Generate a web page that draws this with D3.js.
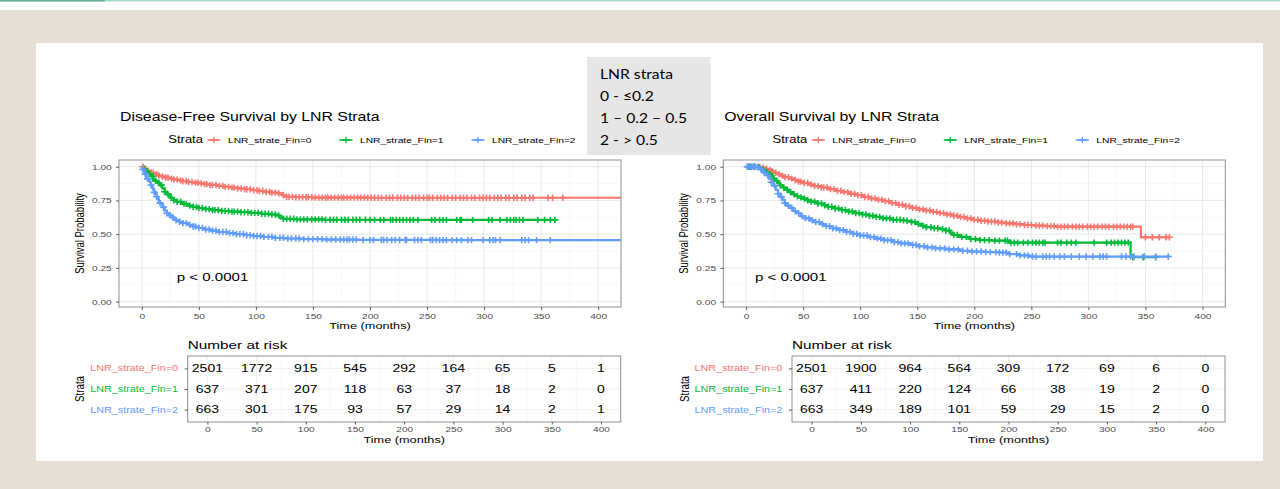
<!DOCTYPE html>
<html>
<head>
<meta charset="utf-8">
<script src="https://cdn.jsdelivr.net/npm/d3@7"></script>
<style>
  body { margin: 0; background: #e6e0d4; }
  svg { display: block; font-family: "Liberation Sans", Arial, sans-serif; }
</style>
</head>
<body>
<svg id="chart"></svg>
<script>
// ---- data ----
const strata = ["LNR_strate_Fin=0", "LNR_strate_Fin=1", "LNR_strate_Fin=2"];
const colors = ["#F8766D", "#00BA38", "#619CFF"];
const timeTicks = [0, 50, 100, 150, 200, 250, 300, 350, 400];
const timeMinor = [25, 75, 125, 175, 225, 275, 325, 375];
const survTicks = [0, 0.25, 0.5, 0.75, 1];
const survMinor = [0.125, 0.375, 0.625, 0.875];
const riskTimes = [0, 50, 100, 150, 200, 250, 300, 350, 400];

// Disease-free survival, [months, survival] knots of the KM step curves
const dfs0 = [[0,1],[2,0.985],[5,0.97],[8,0.955],[11,0.945],[14,0.935],[17,0.928],[20,0.92],[24,0.912],[28,0.905],[32,0.898],[36,0.892],[40,0.887],[45,0.882],[50,0.877],[55,0.871],[60,0.865],[66,0.858],[72,0.851],[78,0.845],[84,0.839],[90,0.833],[96,0.826],[102,0.82],[108,0.813],[114,0.808],[119,0.803],[123,0.79],[126,0.778],[135,0.774],[150,0.771],[200,0.77],[420,0.77]];
const dfs1 = [[0,1],[2,0.98],[4,0.965],[6,0.945],[8,0.93],[10,0.91],[12,0.895],[14,0.88],[16,0.864],[18,0.84],[20,0.815],[22,0.795],[25,0.77],[28,0.752],[31,0.74],[35,0.725],[40,0.712],[45,0.702],[50,0.694],[56,0.686],[62,0.679],[70,0.672],[78,0.667],[86,0.663],[95,0.658],[105,0.651],[112,0.646],[118,0.638],[121,0.625],[124,0.614],[135,0.61],[160,0.607],[200,0.606],[362,0.606]];
const dfs2 = [[0,1],[1,0.98],[2,0.96],[3,0.945],[4,0.925],[5,0.91],[6,0.895],[7,0.885],[8,0.865],[9,0.845],[10,0.83],[11,0.81],[12,0.795],[13,0.778],[14,0.76],[15,0.745],[16,0.73],[18,0.7],[20,0.675],[22,0.655],[24,0.638],[26,0.625],[28,0.613],[30,0.603],[33,0.592],[36,0.582],[40,0.57],[45,0.557],[50,0.546],[55,0.535],[60,0.526],[67,0.516],[75,0.508],[82,0.5],[90,0.492],[98,0.486],[106,0.48],[115,0.473],[125,0.468],[140,0.463],[160,0.46],[190,0.457],[260,0.456],[420,0.456]];

// censoring times (months)
const dfsCens0 = [1,3,5,8,10,13,15,18,21,23,26,28,31,34,36,39,41,44,47,49,52,55,57,60,62,65,68,71,73,76,79,81,84,87,90,92,95,98,101,103,106,109,112,114,117,120,124,127,129,132,135,138,141,144,146,149,152,155,158,161,163,166,169,172,175,177,180,183,186,189,192,195,198,201,204,207,210,214,217,220,224,227,230,233,237,240,243,247,250,252,255,259,262,265,268,272,275,279,282,285,289,292,296,299,302,305,309,312,315,319,322,326,329,333,336,340,343,356,360,369];
const dfsCens1 = [2,4,7,9,12,15,17,20,23,26,28,31,34,37,39,42,45,48,50,53,56,59,62,64,67,70,73,76,79,81,84,87,90,93,96,99,102,105,108,111,114,117,120,124,127,130,133,136,139,142,145,149,152,155,158,161,165,168,171,175,178,181,185,188,191,196,200,204,209,212,218,220,223,226,229,232,235,238,242,254,257,261,264,267,276,279,280,290,304,307,314,320,323,326,328,331,334,347,353,358,362];
const dfsCens2 = [1,3,5,8,11,13,16,19,22,25,27,30,33,36,39,42,45,47,50,53,56,59,62,65,68,71,74,77,80,83,86,89,92,95,98,101,104,107,111,114,117,121,124,128,131,135,138,142,146,150,154,158,162,166,170,174,177,180,182,185,188,194,200,203,210,212,215,219,222,226,231,232,239,242,245,253,255,258,261,264,267,272,276,280,286,289,299,305,308,310,314,333,336,339,346,358];

// Overall survival
const os0 = [[0,1],[10,0.998],[13,0.993],[16,0.985],[19,0.977],[22,0.966],[25,0.955],[28,0.944],[31,0.932],[34,0.922],[38,0.912],[42,0.902],[46,0.89],[50,0.879],[55,0.868],[60,0.857],[66,0.846],[72,0.834],[78,0.822],[84,0.812],[90,0.8],[96,0.789],[102,0.776],[108,0.765],[114,0.755],[120,0.745],[126,0.73],[132,0.718],[138,0.707],[144,0.695],[150,0.684],[156,0.675],[162,0.665],[168,0.656],[174,0.647],[180,0.637],[186,0.627],[192,0.617],[198,0.607],[205,0.6],[212,0.594],[220,0.587],[228,0.58],[236,0.574],[244,0.568],[252,0.564],[262,0.56],[272,0.556],[346,0.477],[371,0.477]];
const os1 = [[0,1],[10,0.997],[12,0.99],[14,0.98],[16,0.97],[18,0.958],[20,0.945],[22,0.93],[24,0.912],[26,0.895],[28,0.878],[30,0.862],[32,0.846],[34,0.83],[37,0.812],[40,0.796],[43,0.783],[46,0.773],[49,0.764],[53,0.752],[57,0.741],[62,0.728],[67,0.715],[72,0.703],[78,0.69],[84,0.679],[90,0.667],[96,0.656],[102,0.646],[108,0.637],[114,0.628],[120,0.617],[128,0.607],[136,0.603],[141,0.599],[145,0.59],[149,0.577],[153,0.563],[158,0.551],[164,0.544],[170,0.537],[175,0.527],[179,0.51],[182,0.495],[187,0.48],[196,0.464],[205,0.456],[215,0.452],[231,0.437],[336,0.437],[337,0.329],[359,0.329]];
const os2 = [[0,1],[10,0.996],[12,0.985],[14,0.97],[16,0.955],[18,0.935],[20,0.912],[22,0.885],[24,0.858],[26,0.828],[28,0.8],[30,0.775],[32,0.752],[34,0.73],[36,0.712],[38,0.695],[41,0.672],[44,0.655],[48,0.634],[52,0.617],[56,0.602],[60,0.59],[65,0.575],[70,0.56],[76,0.543],[82,0.53],[88,0.516],[94,0.503],[100,0.49],[107,0.478],[114,0.467],[121,0.455],[129,0.442],[136,0.432],[144,0.42],[151,0.41],[158,0.402],[166,0.395],[175,0.387],[187,0.377],[196,0.371],[210,0.367],[222,0.364],[230,0.352],[240,0.343],[248,0.334],[371,0.333]];

const osCens0 = [2,5,8,12,15,18,21,23,26,29,32,34,37,40,43,46,48,51,54,57,60,63,66,68,71,74,77,80,83,86,89,92,95,98,101,104,107,110,113,116,119,122,125,128,131,134,137,140,143,146,149,152,155,158,161,164,167,170,173,176,179,182,185,188,191,194,197,200,203,206,209,212,215,218,221,224,228,231,234,237,240,244,247,250,254,257,260,264,267,270,273,276,279,282,286,289,292,295,299,302,305,308,312,315,318,322,325,328,331,334,337,339,350,356,362,368,371];
const osCens1 = [3,7,11,15,18,21,24,27,30,33,36,39,42,45,48,51,54,57,60,63,66,69,72,75,78,81,84,87,90,93,96,99,102,105,108,111,114,117,120,123,126,129,132,135,138,141,145,148,151,155,158,162,165,168,172,175,178,182,185,189,193,197,201,205,209,213,218,222,227,229,232,235,238,243,247,251,254,257,260,262,273,276,281,285,289,305,316,320,323,326,329,332,335,339,348,359];
const osCens2 = [1,2,4,5,7,8,10,13,16,19,22,25,28,31,34,37,40,43,46,49,52,55,58,61,64,67,70,73,76,79,82,85,88,91,94,97,100,103,106,109,112,115,118,121,124,127,130,133,136,139,142,146,149,152,156,159,163,166,170,174,178,182,186,190,194,198,202,206,210,214,219,222,225,228,231,237,240,244,247,251,254,260,263,266,270,275,279,285,292,298,304,310,313,316,329,333,337,340,349,359,370];

// number at risk
const dfsRisk0 = [2501, 1772, 915, 545, 292, 164, 65, 5, 1];
const dfsRisk1 = [637, 371, 207, 118, 63, 37, 18, 2, 0];
const dfsRisk2 = [663, 301, 175, 93, 57, 29, 14, 2, 1];
const osRisk0 = [2501, 1900, 964, 564, 309, 172, 69, 6, 0];
const osRisk1 = [637, 411, 220, 124, 66, 38, 19, 2, 0];
const osRisk2 = [663, 349, 189, 101, 59, 29, 15, 2, 0];

const lnrLines = ["LNR strata", "0 - \u22640.2", "1 \u2013 0.2 \u2013 0.5", "2 - > 0.5"];

// ---- drawing ----
const W = 1280, H = 489, SX = 1.3; // the source image is stretched horizontally
const svg = d3.select("#chart").attr("width", W).attr("height", H);

svg.append("rect").attr("width", W).attr("height", H).attr("fill", "#e6e0d4");
svg.append("rect").attr("width", W).attr("height", 10).attr("fill", "#fff");
svg.append("rect").attr("width", W).attr("height", 1.5).attr("fill", "#a6d6c6");
svg.append("rect").attr("width", 105).attr("height", 1.5).attr("fill", "#6cb4a1");
svg.append("rect").attr("x", 36).attr("y", 43).attr("width", 1227).attr("height", 418).attr("fill", "#fff");

const cross = "M-3.6,0H3.6M0,-3.2V3.2";

function label(g, x, y, s, o = {}) {
  return g.append("text")
    .attr("transform", `translate(${x},${y}) scale(${o.sx || SX},1)${o.rot ? " rotate(-90)" : ""}`)
    .attr("text-anchor", o.anchor || "start")
    .attr("font-size", o.size || 10)
    .attr("fill", o.fill || "#000")
    .text(s);
}

function stepAt(curve, t) {
  let v = curve[0][1];
  curve.forEach((k) => { if (k[0] <= t) v = k[1]; });
  return v;
}

function styleAxis(sel, vertical) {
  sel.select(".domain").remove();
  sel.selectAll(".tick line").attr("stroke", "#333").attr("stroke-width", 0.8);
  sel.selectAll(".tick text")
    .attr("fill", "#4d4d4d")
    .attr("font-size", 7.8)
    .attr("font-family", "Liberation Sans, Arial, sans-serif")
    .attr("transform", `scale(${SX},1)`);
  if (vertical) sel.selectAll(".tick text").attr("x", -7.3 / SX);
}

const panels = [
  { id: "dfs", title: "Disease-Free Survival by LNR Strata", left: 119, pvalDx: 57.7,
    curves: [dfs0, dfs1, dfs2], cens: [dfsCens0, dfsCens1, dfsCens2], risk: [dfsRisk0, dfsRisk1, dfsRisk2] },
  { id: "os", title: "Overall Survival by LNR Strata", left: 723.3, pvalDx: 31.7,
    curves: [os0, os1, os2], cens: [osCens0, osCens1, osCens2], risk: [osRisk0, osRisk1, osRisk2] }
];

panels.forEach(drawPanel);

function drawPanel(p) {
  const L = p.left, R = L + 502, T = 160, B = 307;
  const g = svg.append("g");
  const x = d3.scaleLinear().domain([-20, 420]).range([L, R]);
  const y = d3.scaleLinear().domain([-0.04, 1.05]).range([B, T]);

  label(g, L + 1, 121, p.title, { size: 12.2 });

  // legend
  label(g, L + 49.3, 143, "Strata", { size: 10 });
  strata.forEach((s, i) => {
    const cx = L + 95 + i * 132;
    g.append("line").attr("x1", cx - 6.5).attr("x2", cx + 6.5)
      .attr("y1", 140).attr("y2", 140).attr("stroke", colors[i]).attr("stroke-width", 1.6);
    g.append("path").attr("d", cross).attr("transform", `translate(${cx},140)`)
      .attr("stroke", colors[i]).attr("stroke-width", 1.3).attr("fill", "none");
    label(g, cx + 14, 142.8, s, { size: 7.9 });
  });

  // grid
  g.selectAll(".vmin").data(timeMinor).join("line")
    .attr("x1", x).attr("x2", x).attr("y1", T).attr("y2", B).attr("stroke", "#f3f3f3").attr("stroke-width", 0.6);
  g.selectAll(".hmin").data(survMinor).join("line")
    .attr("x1", L).attr("x2", R).attr("y1", y).attr("y2", y).attr("stroke", "#f3f3f3").attr("stroke-width", 0.6);
  g.selectAll(".vmaj").data(timeTicks).join("line")
    .attr("x1", x).attr("x2", x).attr("y1", T).attr("y2", B).attr("stroke", "#e6e6e6").attr("stroke-width", 0.9);
  g.selectAll(".hmaj").data(survTicks).join("line")
    .attr("x1", L).attr("x2", R).attr("y1", y).attr("y2", y).attr("stroke", "#e6e6e6").attr("stroke-width", 0.9);

  // curves with censor marks
  svg.append("clipPath").attr("id", "clip-" + p.id)
    .append("rect").attr("x", L).attr("y", T).attr("width", R - L).attr("height", B - T);
  const plot = g.append("g").attr("clip-path", `url(#clip-${p.id})`);
  const line = d3.line().x((d) => x(d[0])).y((d) => y(d[1])).curve(d3.curveStepAfter);
  p.curves.forEach((c, i) => {
    plot.append("path").attr("d", line(c)).attr("fill", "none")
      .attr("stroke", colors[i]).attr("stroke-width", 2.2);
    plot.selectAll(null).data(p.cens[i]).join("path")
      .attr("d", cross)
      .attr("transform", (t) => `translate(${x(t)},${y(stepAt(c, t))})`)
      .attr("stroke", colors[i]).attr("stroke-width", 1.6).attr("fill", "none");
  });

  g.append("rect").attr("x", L).attr("y", T).attr("width", R - L).attr("height", B - T)
    .attr("fill", "none").attr("stroke", "#8f8f8f").attr("stroke-width", 1);

  // axes
  const xa = g.append("g").attr("transform", `translate(0,${B})`)
    .call(d3.axisBottom(x).tickValues(timeTicks).tickSize(3).tickPadding(3.3));
  styleAxis(xa, false);
  const ya = g.append("g").attr("transform", `translate(${L},0)`)
    .call(d3.axisLeft(y).tickValues(survTicks).tickFormat(d3.format(".2f")).tickSize(3));
  styleAxis(ya, true);

  label(g, (L + R) / 2, 328.5, "Time (months)", { size: 9.8, anchor: "middle" });
  label(g, L - 35.5, (T + B) / 2, "Survival Probability", { size: 9.5, anchor: "middle", rot: true });
  label(g, L + p.pvalDx, 280.5, "p < 0.0001", { size: 11.6 });

  // risk table
  const bx0 = L + 68.7, bx1 = L + 501.7, by0 = 356, by1 = 422;
  const xr = d3.scaleLinear().domain([-20, 420]).range([bx0, bx1]);
  const yr = d3.scalePoint().domain(strata).range([by0, by1]).padding(0.6);

  label(g, bx0, 349, "Number at risk", { size: 11.8 });

  g.selectAll(".rvmin").data(timeMinor).join("line")
    .attr("x1", xr).attr("x2", xr).attr("y1", by0).attr("y2", by1).attr("stroke", "#f3f3f3").attr("stroke-width", 0.6);
  g.selectAll(".rvmaj").data(timeTicks).join("line")
    .attr("x1", xr).attr("x2", xr).attr("y1", by0).attr("y2", by1).attr("stroke", "#ebebeb").attr("stroke-width", 0.8);
  g.selectAll(".rhmaj").data(strata).join("line")
    .attr("x1", bx0).attr("x2", bx1).attr("y1", yr).attr("y2", yr).attr("stroke", "#ebebeb").attr("stroke-width", 0.8);

  p.risk.forEach((row, i) => {
    row.forEach((n, j) => {
      label(g, xr(riskTimes[j]), yr(strata[i]) + 3.8, n, { size: 10.8, anchor: "middle" });
    });
  });

  g.append("rect").attr("x", bx0).attr("y", by0).attr("width", bx1 - bx0).attr("height", by1 - by0)
    .attr("fill", "none").attr("stroke", "#8f8f8f").attr("stroke-width", 1);

  const rxa = g.append("g").attr("transform", `translate(0,${by1})`)
    .call(d3.axisBottom(xr).tickValues(timeTicks).tickSize(2.5).tickPadding(2.2));
  styleAxis(rxa, false);
  const rya = g.append("g").attr("transform", `translate(${bx0},0)`)
    .call(d3.axisLeft(yr).tickSize(3).tickFormat(""));
  styleAxis(rya, true);

  strata.forEach((s, i) => {
    label(g, bx0 - 9.7, yr(s) + 2.9, s, { size: 8.3, anchor: "end", fill: colors[i] });
  });

  label(g, (bx0 + bx1) / 2, 443.3, "Time (months)", { size: 9.8, anchor: "middle" });
  label(g, bx0 - 103.3, (by0 + by1) / 2, "Strata", { size: 9.8, anchor: "middle", rot: true });
}

// LNR strata note box
const note = svg.append("g");
note.append("rect").attr("x", 587).attr("y", 57).attr("width", 123.5).attr("height", 98).attr("fill", "#e7e6e6");
lnrLines.forEach((s, i) => {
  note.append("text")
    .attr("transform", `translate(600,${79.3 + i * 21.9}) scale(1.12,1)`)
    .attr("font-family", "Lato, 'Open Sans', sans-serif")
    .attr("font-size", 14)
    .attr("fill", "#000")
    .text(s);
});
</script>
</body>
</html>
